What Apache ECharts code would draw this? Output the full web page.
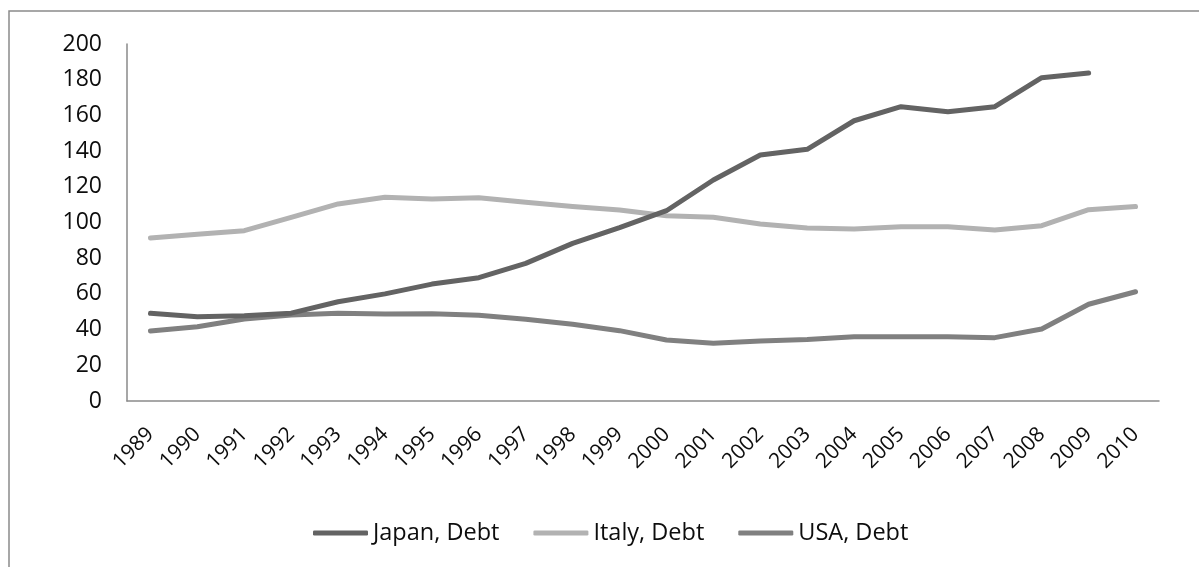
<!DOCTYPE html>
<html>
<head>
<meta charset="utf-8">
<title>Government Debt: Japan, Italy, USA</title>
<script src="https://cdn.jsdelivr.net/npm/echarts@6/dist/echarts.min.js"></script>
<style>
  html, body { margin: 0; padding: 0; background: #ffffff; }
  #chart { width: 1199px; height: 567px; }
</style>
</head>
<body>
<div id="chart"></div>
<script>
// Years on the category axis
const years = ['1989','1990','1991','1992','1993','1994','1995','1996','1997','1998','1999',
               '2000','2001','2002','2003','2004','2005','2006','2007','2008','2009','2010'];

// Gross government debt, % of GDP
const japanDebt = [49.1, 47.2, 47.8, 49.2, 55.6, 60.0, 65.5, 69.1, 77.1, 88.3, 97.1,
                   106.6, 123.8, 137.8, 141.0, 157.0, 164.9, 162.1, 164.9, 181.1, 183.8, null];
const italyDebt = [91.3, 93.4, 95.4, 102.9, 110.4, 114.1, 113.2, 113.9, 111.3, 108.9, 107.0,
                   103.8, 102.9, 99.2, 96.9, 96.4, 97.6, 97.6, 95.8, 98.2, 107.2, 108.9];
const usaDebt = [39.2, 41.6, 45.9, 48.2, 49.1, 48.7, 48.9, 48.0, 45.8, 43.0, 39.4,
                 34.2, 32.3, 33.6, 34.5, 36.0, 36.0, 36.0, 35.5, 40.3, 54.2, 61.2];

// Value axis ticks
const yMin = 0, yMax = 200, yStep = 20;

const seriesNames = ['Japan, Debt', 'Italy, Debt', 'USA, Debt'];
const seriesColors = ['#636363', '#b2b2b2', '#808080'];
const seriesData = [japanDebt, italyDebt, usaDebt];

const FONT = '"Open Sans", "Noto Sans", sans-serif';
const TEXT_COLOR = '#0d0d0d';
const AXIS_COLOR = '#8a8a8a';

const chart = echarts.init(document.getElementById('chart'), null, { renderer: 'canvas' });

chart.setOption({
  animation: false,
  backgroundColor: '#ffffff',
  // outer frame of the chart area
  graphic: [{
    type: 'rect',
    silent: true,
    shape: { x: 9, y: 11, width: 1300, height: 700 },
    style: { fill: 'none', stroke: AXIS_COLOR, lineWidth: 1.5 }
  }],
  grid: { left: 127, right: 40, top: 44, bottom: 166, containLabel: false },
  legend: {
    left: 313,
    top: 521,
    padding: 0,
    icon: 'roundRect',
    itemWidth: 55,
    itemHeight: 5,
    itemGap: 34,
    textStyle: { fontFamily: FONT, fontSize: 23.5, color: TEXT_COLOR },
    data: seriesNames
  },
  xAxis: {
    type: 'category',
    data: years,
    boundaryGap: true,
    axisLine: { lineStyle: { color: AXIS_COLOR, width: 1.5 } },
    axisTick: { show: false },
    axisLabel: {
      rotate: 45,
      interval: 0,
      margin: 30,
      fontFamily: FONT,
      fontSize: 21,
      color: TEXT_COLOR
    },
    splitLine: { show: false }
  },
  yAxis: {
    type: 'value',
    min: yMin,
    max: yMax,
    interval: yStep,
    axisLine: { show: true, lineStyle: { color: AXIS_COLOR, width: 1.5 } },
    axisTick: { show: false },
    axisLabel: {
      margin: 25,
      fontFamily: FONT,
      fontSize: 23,
      color: TEXT_COLOR
    },
    splitLine: { show: false }
  },
  series: seriesNames.map((name, i) => ({
    name: name,
    type: 'line',
    data: seriesData[i],
    symbol: 'none',
    connectNulls: false,
    color: seriesColors[i],
    lineStyle: { width: 5, color: seriesColors[i], cap: 'round', join: 'round' },
    emphasis: { disabled: true },
    z: 3 - i
  }))
});
</script>
</body>
</html>
